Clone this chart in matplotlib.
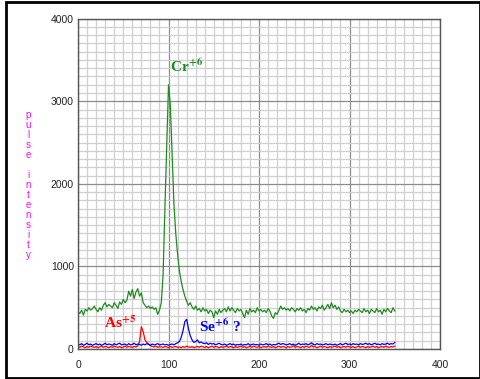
import numpy as np
import matplotlib
matplotlib.use("Agg")
import matplotlib.pyplot as plt
from matplotlib.patches import Rectangle

plt.rcParams['font.family'] = ['Liberation Sans', 'DejaVu Sans']
plt.rcParams['mathtext.fontset'] = 'stix'

# retention time axis (sampled every 2 units)
x = np.arange(0, 352, 2)

cr6 = [450, 430, 470, 410, 480, 460, 500, 470, 490, 520, 480, 450, 500, 470, 530, 560,
       510, 540, 520, 500, 560, 530, 490, 570, 540, 600, 560, 590, 700, 640, 720, 610,
       690, 730, 640, 680, 560, 530, 500, 520, 490, 510, 480, 500, 420, 470, 560, 900,
       1700, 2450, 3200, 2950, 2350, 1750, 1400, 1150, 950, 820, 720, 640, 580, 530, 560, 510,
       480, 520, 470, 490, 450, 500, 460, 480, 430, 470, 450, 380, 460, 420, 480, 440,
       470, 490, 450, 510, 460, 500, 470, 440, 490, 460, 480, 430, 380, 470, 420, 490,
       450, 470, 440, 500, 460, 480, 450, 470, 440, 490, 460, 400, 370, 440, 420, 470,
       520, 480, 500, 470, 490, 460, 500, 480, 450, 490, 470, 500, 460, 480, 440, 490,
       470, 520, 480, 500, 460, 510, 490, 530, 470, 500, 540, 490, 560, 500, 530, 480,
       510, 460, 440, 480, 450, 470, 440, 460, 430, 470, 450, 480, 460, 440, 490, 450,
       470, 430, 480, 460, 440, 490, 450, 470, 420, 480, 450, 490, 460, 440, 500, 460]

se6 = [60, 50, 65, 45, 55, 70, 50, 60, 45, 55, 65, 50, 60, 45, 55, 70,
       50, 60, 55, 45, 65, 50, 60, 70, 50, 55, 60, 45, 65, 50, 55, 70,
       50, 60, 55, 45, 60, 50, 65, 55, 45, 60, 50, 55, 65, 50, 55, 60,
       50, 55, 45, 55, 60, 50, 65, 75, 90, 140, 220, 330, 360, 250, 160, 110,
       80, 90, 110, 75, 85, 70, 65, 75, 55, 70, 60, 65, 50, 60, 70, 55,
       50, 60, 45, 55, 65, 50, 60, 45, 55, 50, 60, 45, 55, 50, 65, 45,
       55, 60, 50, 55, 45, 60, 50, 55, 65, 50, 60, 45, 55, 50, 60, 70,
       55, 65, 60, 50, 55, 65, 50, 60, 45, 55, 70, 50, 60, 55, 65, 50,
       60, 75, 55, 50, 65, 55, 60, 50, 55, 65, 50, 60, 55, 50, 60, 45,
       55, 65, 50, 60, 70, 55, 60, 50, 65, 55, 60, 50, 65, 55, 60, 70,
       55, 65, 50, 60, 70, 55, 60, 50, 65, 55, 60, 70, 55, 65, 60, 80]

as5 = [30, 20, 35, 25, 15, 30, 20, 35, 25, 20, 30, 15, 25, 35, 20, 30,
       25, 15, 30, 20, 35, 25, 20, 30, 15, 25, 35, 20, 30, 25, 20, 30,
       25, 35, 90, 270, 210, 110, 80, 60, 40, 30, 25, 35, 20, 30, 25, 20,
       30, 25, 15, 30, 20, 25, 30, 20, 25, 15, 30, 20, 35, 25, 20, 30,
       15, 25, 30, 20, 35, 25, 20, 30, 15, 25, 35, 20, 30, 25, 15, 30,
       20, 25, 35, 20, 30, 25, 15, 30, 20, 25, 35, 20, 30, 15, 25, 30,
       20, 35, 25, 20, 30, 15, 25, 30, 20, 35, 25, 20, 30, 15, 25, 35,
       20, 30, 25, 15, 30, 20, 25, 40, 20, 30, 25, 15, 30, 20, 35, 25,
       20, 45, 25, 30, 15, 25, 35, 20, 30, 25, 15, 30, 20, 25, 35, 20,
       30, 15, 25, 30, 20, 35, 25, 20, 30, 15, 25, 35, 20, 30, 25, 15,
       30, 20, 25, 35, 20, 30, 15, 25, 30, 20, 35, 25, 20, 30, 25, 35]

fig = plt.figure(figsize=(4.81, 3.79), dpi=100)
ax = fig.add_axes([0.1622, 0.0792, 0.7526, 0.8715])

ax.plot(x, cr6, color='#1f8a1f', lw=0.9)
ax.plot(x, as5, color='#ff0000', lw=0.9)
ax.plot(x, se6, color='#0000ff', lw=0.9)

ax.set_xlim(0, 400)
ax.set_ylim(0, 4000)
ax.set_xticks([0, 100, 200, 300, 400])
ax.set_yticks([0, 1000, 2000, 3000, 4000])
ax.set_xticks(np.arange(0, 401, 10), minor=True)
ax.set_yticks(np.arange(0, 4001, 100), minor=True)
ax.grid(which='minor', color='#cfcfcf', lw=0.9)
ax.grid(which='major', color='#8c8c8c', lw=0.9)
ax.set_axisbelow(True)
ax.tick_params(which='both', length=0, labelsize=7.5, colors='#222222', pad=3)
ax.tick_params(axis='x', pad=8)
for s in ax.spines.values():
    s.set_color('#555555')
    s.set_linewidth(1)

ax.text(101.5, 3350, r'Cr$^{\mathbf{+6}}$', color='#1f8a1f', fontsize=11,
        fontfamily='Liberation Serif', fontweight='bold')
ax.text(28.5, 250, r'As$^{\mathbf{+5}}$', color='#ff0000', fontsize=11,
        fontfamily='Liberation Serif', fontweight='bold')
ax.text(134, 205, r'Se$^{\mathbf{+6}}$ ?', color='#0000ff', fontsize=11,
        fontfamily='Liberation Serif', fontweight='bold')

# stacked y label
label = "pulse intensity"
for i, ch in enumerate(label):
    fig.text(28 / 481, 1 - (115 + i * 10) / 379, ch, color='#ff00ff',
             fontsize=7, ha='center', va='center')

fig.patches.append(Rectangle((6 / 481, 1.5 / 379), 474 / 481, 376 / 379,
                             transform=fig.transFigure, fill=False,
                             edgecolor='black', lw=2))

fig.savefig('out.png', dpi=100)
